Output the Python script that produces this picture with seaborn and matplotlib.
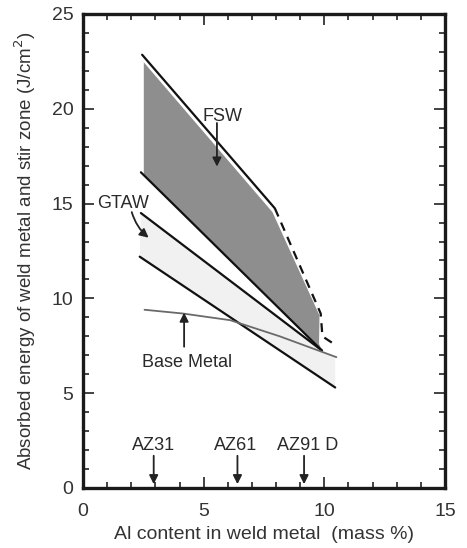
import numpy as np
import pandas as pd
import matplotlib
matplotlib.use("Agg")
import matplotlib.pyplot as plt
import seaborn as sns

# boundary lines (Al mass %, J/cm2)
fsw_upper_x = [2.45, 7.95]
fsw_upper_y = [22.85, 14.75]
fsw_dash_x = [7.95, 9.85, 9.92, 10.45]
fsw_dash_y = [14.75, 9.2, 8.0, 7.55]
fsw_lower_x = [2.4, 9.9]
fsw_lower_y = [16.65, 7.25]
gtaw_upper_x = [2.4, 9.9]
gtaw_upper_y = [14.5, 7.25]
gtaw_lower_x = [2.35, 10.45]
gtaw_lower_y = [12.2, 5.3]
base_x = [2.55, 4.15, 6.1, 8.15, 10.5]
base_y = [9.4, 9.2, 8.85, 8.0, 6.9]

# shaded bands
fsw_band_x = [2.52, 7.85, 9.8, 9.78, 9.9, 2.52]
fsw_band_y = [22.45, 14.55, 9.1, 7.6, 7.25, 16.5]
gtaw_band_x = [2.4, 9.9, 10.45, 10.45, 2.35]
gtaw_band_y = [14.5, 7.25, 6.9, 5.3, 12.2]

alloys = ["AZ31", "AZ61", "AZ91 D"]
alloy_al = [2.93, 6.4, 9.16]
alloy_text_x = [2.94, 6.33, 9.3]

sns.set_style("ticks")
plt.rcParams['font.family'] = ['Liberation Sans', 'DejaVu Sans']
txt = "#2a2a2a"

fig = plt.figure(figsize=(4.67, 5.48), dpi=100)
ax = fig.add_axes([0.1777, 0.1095, 0.7752, 0.865])

ax.fill(gtaw_band_x, gtaw_band_y, color="#f1f1f1", lw=0, zorder=1)
ax.fill(fsw_band_x, fsw_band_y, color="#8e8e8e", lw=0, zorder=1)

def seg(x, y, **kw):
    d = pd.DataFrame({"x": x, "y": y})
    sns.lineplot(data=d, x="x", y="y", sort=False, ax=ax, zorder=3, **kw)

seg(fsw_upper_x, fsw_upper_y, color="#111111", lw=1.6)
seg(fsw_dash_x, fsw_dash_y, color="#111111", lw=1.6, dashes=[(4, 3)], style=[0] * 4, legend=False)
seg(fsw_lower_x, fsw_lower_y, color="#111111", lw=1.6)
seg(gtaw_upper_x, gtaw_upper_y, color="#111111", lw=1.6)
seg(gtaw_lower_x, gtaw_lower_y, color="#111111", lw=1.6)
seg(base_x, base_y, color="#6a6a6a", lw=1.3)

arrow = dict(arrowstyle="-|>", color="#222222", lw=1.3, mutation_scale=13, shrinkA=0, shrinkB=0)
ax.text(5.76, 19.6, "FSW", ha="center", va="center", fontsize=13, color=txt)
ax.annotate("", xy=(5.55, 16.95), xytext=(5.55, 19.25), arrowprops=arrow)
ax.text(1.64, 15.0, "GTAW", ha="center", va="center", fontsize=13, color=txt)
ax.annotate("", xy=(2.72, 13.2), xytext=(2.02, 14.55),
            arrowprops=dict(arrow, connectionstyle="arc3,rad=0.15"))
ax.text(4.33, 6.6, "Base Metal", ha="center", va="center", fontsize=13, color=txt)
ax.annotate("", xy=(4.19, 9.25), xytext=(4.19, 7.45), arrowprops=arrow)

for name, xa, xt in zip(alloys, alloy_al, alloy_text_x):
    ax.text(xt, 2.25, name, ha="center", va="center", fontsize=13, color=txt)
    ax.annotate("", xy=(xa, 0.2), xytext=(xa, 1.7), arrowprops=arrow)

ax.set_xlim(0, 15)
ax.set_ylim(0, 25)
ax.set_xticks([0, 5, 10, 15])
ax.set_yticks([0, 5, 10, 15, 20, 25])
ax.set_xticks(np.arange(0, 16, 1), minor=True)
ax.set_yticks(np.arange(0, 26, 1), minor=True)
ax.tick_params(which="both", direction="in", top=True, right=True, color="#222222", width=1.2)
ax.tick_params(which="major", length=8, labelsize=14, labelcolor="#333333", pad=7)
ax.tick_params(axis="x", which="major", pad=11)
ax.tick_params(which="minor", length=4)
for s in ax.spines.values():
    s.set_linewidth(2.4)
    s.set_color("#1a1a1a")

ax.set_xlabel("Al content in weld metal  (mass %)", fontsize=14, color="#333333", labelpad=4)
ax.set_ylabel("Absorbed energy of weld metal and stir zone (J/cm$^2$)", fontsize=13.5,
              color="#333333", labelpad=10)

fig.savefig("out.png", dpi=100)
